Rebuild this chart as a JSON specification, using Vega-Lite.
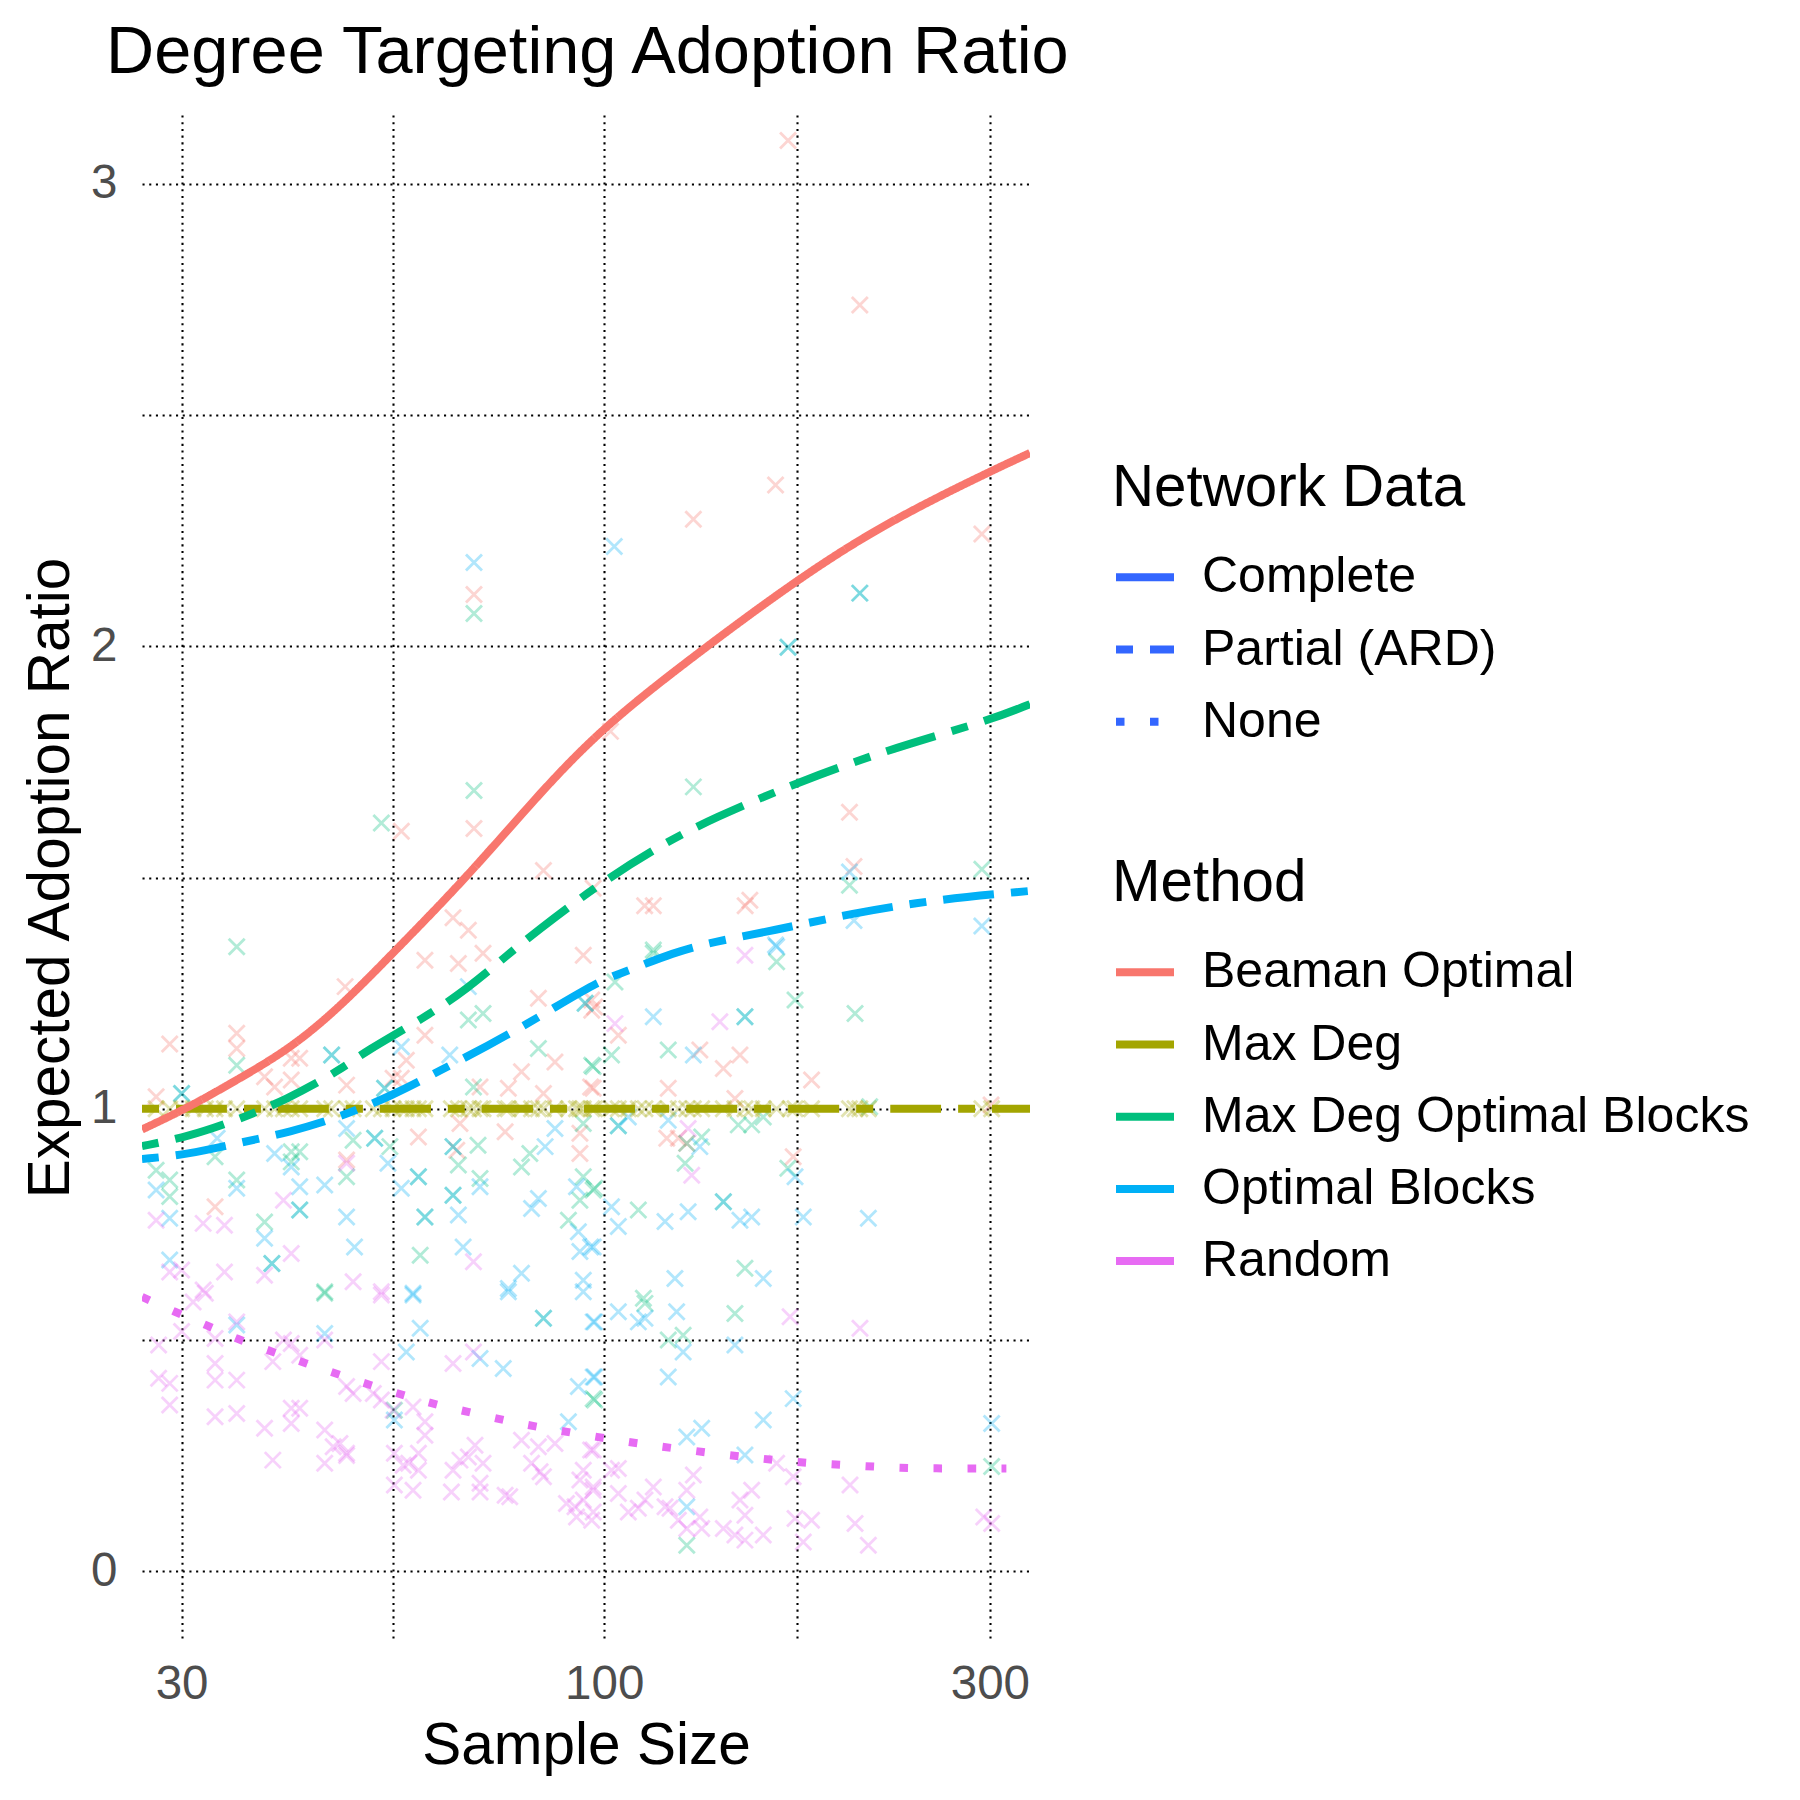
{
  "$schema": "https://vega.github.io/schema/vega-lite/v6.json",
  "width": 888,
  "height": 1525,
  "autosize": {"type": "none"},
  "padding": {"left": 142, "top": 115, "right": 770, "bottom": 160},
  "background": "white",
  "title": {
    "text": "Degree Targeting Adoption Ratio",
    "anchor": "start",
    "frame": "group",
    "dx": -36,
    "dy": 67,
    "offset": 42,
    "baseline": "alphabetic",
    "fontSize": 66.7,
    "font": "Liberation Sans",
    "fontWeight": "normal",
    "color": "black",
    "limit": 0
  },
  "config": {
    "view": {"stroke": null},
    "font": "Liberation Sans",
    "axis": {
      "domain": false,
      "ticks": false,
      "grid": true,
      "gridColor": "#000000",
      "gridOpacity": 1,
      "gridDash": [2.1, 4.6],
      "gridWidth": 2.1,
      "labelFont": "Liberation Sans",
      "labelFontSize": 47.5,
      "labelColor": "#4D4D4D",
      "titleFont": "Liberation Sans",
      "titleFontSize": 58.5,
      "titleFontWeight": "normal",
      "titleColor": "black"
    },
    "legend": {
      "labelFont": "Liberation Sans",
      "labelFontSize": 50,
      "labelColor": "black",
      "labelLimit": 0,
      "titleFont": "Liberation Sans",
      "titleFontSize": 58.3,
      "titleFontWeight": "normal",
      "titleColor": "black",
      "titleLimit": 0
    }
  },
  "datasets": {
    "curves": [
      {"method": "Max Deg", "network": "Partial (ARD)", "n": 26.8, "ratio": 1.0},
      {"method": "Max Deg", "network": "Partial (ARD)", "n": 60, "ratio": 1.0},
      {"method": "Max Deg", "network": "Partial (ARD)", "n": 150, "ratio": 1.0},
      {"method": "Max Deg", "network": "Partial (ARD)", "n": 336.3, "ratio": 1.0},
      {"method": "Beaman Optimal", "network": "Complete", "n": 26.8, "ratio": 0.955},
      {"method": "Beaman Optimal", "network": "Complete", "n": 30.7, "ratio": 1.004},
      {"method": "Beaman Optimal", "network": "Complete", "n": 35.1, "ratio": 1.062},
      {"method": "Beaman Optimal", "network": "Complete", "n": 40.9, "ratio": 1.13},
      {"method": "Beaman Optimal", "network": "Complete", "n": 47.1, "ratio": 1.22},
      {"method": "Beaman Optimal", "network": "Complete", "n": 54.6, "ratio": 1.334},
      {"method": "Beaman Optimal", "network": "Complete", "n": 67.6, "ratio": 1.5},
      {"method": "Beaman Optimal", "network": "Complete", "n": 83.7, "ratio": 1.688},
      {"method": "Beaman Optimal", "network": "Complete", "n": 100.1, "ratio": 1.828},
      {"method": "Beaman Optimal", "network": "Complete", "n": 127.9, "ratio": 1.974},
      {"method": "Beaman Optimal", "network": "Complete", "n": 173, "ratio": 2.144},
      {"method": "Beaman Optimal", "network": "Complete", "n": 222.9, "ratio": 2.267},
      {"method": "Beaman Optimal", "network": "Complete", "n": 300, "ratio": 2.378},
      {"method": "Beaman Optimal", "network": "Complete", "n": 336.3, "ratio": 2.418},
      {"method": "Max Deg Optimal Blocks", "network": "Partial (ARD)", "n": 26.8, "ratio": 0.919},
      {"method": "Max Deg Optimal Blocks", "network": "Partial (ARD)", "n": 30.5, "ratio": 0.939},
      {"method": "Max Deg Optimal Blocks", "network": "Partial (ARD)", "n": 35.1, "ratio": 0.975},
      {"method": "Max Deg Optimal Blocks", "network": "Partial (ARD)", "n": 40.5, "ratio": 1.02},
      {"method": "Max Deg Optimal Blocks", "network": "Partial (ARD)", "n": 47.1, "ratio": 1.083},
      {"method": "Max Deg Optimal Blocks", "network": "Partial (ARD)", "n": 50.7, "ratio": 1.125},
      {"method": "Max Deg Optimal Blocks", "network": "Partial (ARD)", "n": 59.7, "ratio": 1.195},
      {"method": "Max Deg Optimal Blocks", "network": "Partial (ARD)", "n": 67.6, "ratio": 1.258},
      {"method": "Max Deg Optimal Blocks", "network": "Partial (ARD)", "n": 76.3, "ratio": 1.336},
      {"method": "Max Deg Optimal Blocks", "network": "Partial (ARD)", "n": 82, "ratio": 1.38},
      {"method": "Max Deg Optimal Blocks", "network": "Partial (ARD)", "n": 96.9, "ratio": 1.477},
      {"method": "Max Deg Optimal Blocks", "network": "Partial (ARD)", "n": 116, "ratio": 1.565},
      {"method": "Max Deg Optimal Blocks", "network": "Partial (ARD)", "n": 136.5, "ratio": 1.629},
      {"method": "Max Deg Optimal Blocks", "network": "Partial (ARD)", "n": 173, "ratio": 1.705},
      {"method": "Max Deg Optimal Blocks", "network": "Partial (ARD)", "n": 222.9, "ratio": 1.775},
      {"method": "Max Deg Optimal Blocks", "network": "Partial (ARD)", "n": 300, "ratio": 1.84},
      {"method": "Max Deg Optimal Blocks", "network": "Partial (ARD)", "n": 336.3, "ratio": 1.875},
      {"method": "Optimal Blocks", "network": "Partial (ARD)", "n": 26.8, "ratio": 0.891},
      {"method": "Optimal Blocks", "network": "Partial (ARD)", "n": 30.5, "ratio": 0.901},
      {"method": "Optimal Blocks", "network": "Partial (ARD)", "n": 35.1, "ratio": 0.925},
      {"method": "Optimal Blocks", "network": "Partial (ARD)", "n": 41.0, "ratio": 0.95},
      {"method": "Optimal Blocks", "network": "Partial (ARD)", "n": 47.1, "ratio": 0.982},
      {"method": "Optimal Blocks", "network": "Partial (ARD)", "n": 54.8, "ratio": 1.029},
      {"method": "Optimal Blocks", "network": "Partial (ARD)", "n": 62.7, "ratio": 1.083},
      {"method": "Optimal Blocks", "network": "Partial (ARD)", "n": 71.4, "ratio": 1.134},
      {"method": "Optimal Blocks", "network": "Partial (ARD)", "n": 83.3, "ratio": 1.199},
      {"method": "Optimal Blocks", "network": "Partial (ARD)", "n": 98, "ratio": 1.275},
      {"method": "Optimal Blocks", "network": "Partial (ARD)", "n": 107.6, "ratio": 1.3},
      {"method": "Optimal Blocks", "network": "Partial (ARD)", "n": 121.5, "ratio": 1.337},
      {"method": "Optimal Blocks", "network": "Partial (ARD)", "n": 136.3, "ratio": 1.361},
      {"method": "Optimal Blocks", "network": "Partial (ARD)", "n": 160.8, "ratio": 1.384},
      {"method": "Optimal Blocks", "network": "Partial (ARD)", "n": 205.4, "ratio": 1.425},
      {"method": "Optimal Blocks", "network": "Partial (ARD)", "n": 262.4, "ratio": 1.454},
      {"method": "Optimal Blocks", "network": "Partial (ARD)", "n": 336.3, "ratio": 1.471},
      {"method": "Random", "network": "None", "n": 26.8, "ratio": 0.593},
      {"method": "Random", "network": "None", "n": 29.4, "ratio": 0.561},
      {"method": "Random", "network": "None", "n": 32.2, "ratio": 0.532},
      {"method": "Random", "network": "None", "n": 35.1, "ratio": 0.502},
      {"method": "Random", "network": "None", "n": 38.9, "ratio": 0.474},
      {"method": "Random", "network": "None", "n": 42.8, "ratio": 0.449},
      {"method": "Random", "network": "None", "n": 47.1, "ratio": 0.424},
      {"method": "Random", "network": "None", "n": 52.0, "ratio": 0.399},
      {"method": "Random", "network": "None", "n": 57.3, "ratio": 0.377},
      {"method": "Random", "network": "None", "n": 62.9, "ratio": 0.357},
      {"method": "Random", "network": "None", "n": 69.6, "ratio": 0.34},
      {"method": "Random", "network": "None", "n": 76.6, "ratio": 0.323},
      {"method": "Random", "network": "None", "n": 84.5, "ratio": 0.309},
      {"method": "Random", "network": "None", "n": 93.6, "ratio": 0.296},
      {"method": "Random", "network": "None", "n": 103.6, "ratio": 0.283},
      {"method": "Random", "network": "None", "n": 114.5, "ratio": 0.272},
      {"method": "Random", "network": "None", "n": 126.5, "ratio": 0.262},
      {"method": "Random", "network": "None", "n": 140.4, "ratio": 0.252},
      {"method": "Random", "network": "None", "n": 155, "ratio": 0.244},
      {"method": "Random", "network": "None", "n": 171.3, "ratio": 0.236},
      {"method": "Random", "network": "None", "n": 189.6, "ratio": 0.231},
      {"method": "Random", "network": "None", "n": 210.2, "ratio": 0.227},
      {"method": "Random", "network": "None", "n": 232.7, "ratio": 0.223},
      {"method": "Random", "network": "None", "n": 257.6, "ratio": 0.222},
      {"method": "Random", "network": "None", "n": 284.8, "ratio": 0.222},
      {"method": "Random", "network": "None", "n": 314.4, "ratio": 0.222}
    ],
    "points": [
      {"method": "Beaman Optimal", "n": 29.0, "ratio": 1.14},
      {"method": "Beaman Optimal", "n": 35.1, "ratio": 1.163},
      {"method": "Beaman Optimal", "n": 35.1, "ratio": 1.13},
      {"method": "Beaman Optimal", "n": 27.9, "ratio": 1.026},
      {"method": "Beaman Optimal", "n": 38.0, "ratio": 1.069},
      {"method": "Beaman Optimal", "n": 39.1, "ratio": 1.047},
      {"method": "Beaman Optimal", "n": 41.0, "ratio": 1.109},
      {"method": "Beaman Optimal", "n": 42.0, "ratio": 1.109},
      {"method": "Beaman Optimal", "n": 41.0, "ratio": 1.062},
      {"method": "Beaman Optimal", "n": 47.8, "ratio": 1.264},
      {"method": "Beaman Optimal", "n": 48.0, "ratio": 1.051},
      {"method": "Beaman Optimal", "n": 48.0, "ratio": 0.889},
      {"method": "Beaman Optimal", "n": 33.0, "ratio": 0.788},
      {"method": "Beaman Optimal", "n": 60.0, "ratio": 1.321},
      {"method": "Beaman Optimal", "n": 66.0, "ratio": 1.314},
      {"method": "Beaman Optimal", "n": 70.8, "ratio": 1.336},
      {"method": "Beaman Optimal", "n": 60.0, "ratio": 1.159},
      {"method": "Beaman Optimal", "n": 56.9, "ratio": 1.105},
      {"method": "Beaman Optimal", "n": 56.1, "ratio": 1.066},
      {"method": "Beaman Optimal", "n": 94.2, "ratio": 1.332},
      {"method": "Beaman Optimal", "n": 82.9, "ratio": 1.239},
      {"method": "Beaman Optimal", "n": 96.5, "ratio": 1.235},
      {"method": "Beaman Optimal", "n": 96.5, "ratio": 1.213},
      {"method": "Beaman Optimal", "n": 86.9, "ratio": 1.101},
      {"method": "Beaman Optimal", "n": 79.0, "ratio": 1.08},
      {"method": "Beaman Optimal", "n": 76.1, "ratio": 1.044},
      {"method": "Beaman Optimal", "n": 70.2, "ratio": 1.047},
      {"method": "Beaman Optimal", "n": 96.2, "ratio": 1.047},
      {"method": "Beaman Optimal", "n": 66.3, "ratio": 0.968},
      {"method": "Beaman Optimal", "n": 58.9, "ratio": 0.939},
      {"method": "Beaman Optimal", "n": 75.4, "ratio": 0.95},
      {"method": "Beaman Optimal", "n": 65.7, "ratio": 0.91},
      {"method": "Beaman Optimal", "n": 93.3, "ratio": 0.947},
      {"method": "Beaman Optimal", "n": 93.3, "ratio": 0.903},
      {"method": "Beaman Optimal", "n": 54.8, "ratio": 1.066},
      {"method": "Beaman Optimal", "n": 84.1, "ratio": 1.033},
      {"method": "Beaman Optimal", "n": 104.1, "ratio": 1.159},
      {"method": "Beaman Optimal", "n": 97.3, "ratio": 1.22},
      {"method": "Beaman Optimal", "n": 131.3, "ratio": 1.127},
      {"method": "Beaman Optimal", "n": 147.2, "ratio": 1.116},
      {"method": "Beaman Optimal", "n": 140.4, "ratio": 1.087},
      {"method": "Beaman Optimal", "n": 180.5, "ratio": 1.062},
      {"method": "Beaman Optimal", "n": 120.0, "ratio": 1.044},
      {"method": "Beaman Optimal", "n": 145.1, "ratio": 1.022},
      {"method": "Beaman Optimal", "n": 119.5, "ratio": 0.936},
      {"method": "Beaman Optimal", "n": 123.5, "ratio": 0.936},
      {"method": "Beaman Optimal", "n": 126.5, "ratio": 0.925},
      {"method": "Beaman Optimal", "n": 171.3, "ratio": 0.896},
      {"method": "Beaman Optimal", "n": 96.9, "ratio": 1.044},
      {"method": "Beaman Optimal", "n": 301.0, "ratio": 1.008},
      {"method": "Beaman Optimal", "n": 168.8, "ratio": 3.094},
      {"method": "Beaman Optimal", "n": 207.1, "ratio": 2.738},
      {"method": "Beaman Optimal", "n": 162.9, "ratio": 2.349},
      {"method": "Beaman Optimal", "n": 128.9, "ratio": 2.275},
      {"method": "Beaman Optimal", "n": 293.2, "ratio": 2.243},
      {"method": "Beaman Optimal", "n": 69.0, "ratio": 2.112},
      {"method": "Beaman Optimal", "n": 101.8, "ratio": 1.816},
      {"method": "Beaman Optimal", "n": 56.1, "ratio": 1.6},
      {"method": "Beaman Optimal", "n": 69.0, "ratio": 1.606},
      {"method": "Beaman Optimal", "n": 201.1, "ratio": 1.641},
      {"method": "Beaman Optimal", "n": 203.7, "ratio": 1.524},
      {"method": "Beaman Optimal", "n": 84.1, "ratio": 1.515},
      {"method": "Beaman Optimal", "n": 96.9, "ratio": 1.477},
      {"method": "Beaman Optimal", "n": 112.2, "ratio": 1.439},
      {"method": "Beaman Optimal", "n": 115.0, "ratio": 1.439},
      {"method": "Beaman Optimal", "n": 149.4, "ratio": 1.439},
      {"method": "Beaman Optimal", "n": 151.4, "ratio": 1.451},
      {"method": "Beaman Optimal", "n": 65.0, "ratio": 1.413},
      {"method": "Beaman Optimal", "n": 67.9, "ratio": 1.386},
      {"method": "Max Deg Optimal Blocks", "n": 35.1, "ratio": 1.094},
      {"method": "Max Deg Optimal Blocks", "n": 27.9, "ratio": 0.867},
      {"method": "Max Deg Optimal Blocks", "n": 29.0, "ratio": 0.846},
      {"method": "Max Deg Optimal Blocks", "n": 29.0, "ratio": 0.81},
      {"method": "Max Deg Optimal Blocks", "n": 33.0, "ratio": 0.896},
      {"method": "Max Deg Optimal Blocks", "n": 35.1, "ratio": 0.846},
      {"method": "Max Deg Optimal Blocks", "n": 38.0, "ratio": 0.755},
      {"method": "Max Deg Optimal Blocks", "n": 41.0, "ratio": 0.907},
      {"method": "Max Deg Optimal Blocks", "n": 42.0, "ratio": 0.907},
      {"method": "Max Deg Optimal Blocks", "n": 41.0, "ratio": 0.885},
      {"method": "Max Deg Optimal Blocks", "n": 48.0, "ratio": 0.853},
      {"method": "Max Deg Optimal Blocks", "n": 48.9, "ratio": 0.932},
      {"method": "Max Deg Optimal Blocks", "n": 45.1, "ratio": 0.604},
      {"method": "Max Deg Optimal Blocks", "n": 67.9, "ratio": 1.192},
      {"method": "Max Deg Optimal Blocks", "n": 70.8, "ratio": 1.206},
      {"method": "Max Deg Optimal Blocks", "n": 68.9, "ratio": 1.047},
      {"method": "Max Deg Optimal Blocks", "n": 69.8, "ratio": 0.921},
      {"method": "Max Deg Optimal Blocks", "n": 70.2, "ratio": 0.849},
      {"method": "Max Deg Optimal Blocks", "n": 66.0, "ratio": 0.878},
      {"method": "Max Deg Optimal Blocks", "n": 82.9, "ratio": 1.13},
      {"method": "Max Deg Optimal Blocks", "n": 96.5, "ratio": 1.094},
      {"method": "Max Deg Optimal Blocks", "n": 94.2, "ratio": 0.968},
      {"method": "Max Deg Optimal Blocks", "n": 94.2, "ratio": 0.853},
      {"method": "Max Deg Optimal Blocks", "n": 93.3, "ratio": 0.802},
      {"method": "Max Deg Optimal Blocks", "n": 96.9, "ratio": 0.824},
      {"method": "Max Deg Optimal Blocks", "n": 90.3, "ratio": 0.759},
      {"method": "Max Deg Optimal Blocks", "n": 79.0, "ratio": 0.874},
      {"method": "Max Deg Optimal Blocks", "n": 80.9, "ratio": 0.903},
      {"method": "Max Deg Optimal Blocks", "n": 59.2, "ratio": 0.683},
      {"method": "Max Deg Optimal Blocks", "n": 53.5, "ratio": 1.044},
      {"method": "Max Deg Optimal Blocks", "n": 46.0, "ratio": 1.116},
      {"method": "Max Deg Optimal Blocks", "n": 30.0, "ratio": 1.033},
      {"method": "Max Deg Optimal Blocks", "n": 54.3, "ratio": 0.918},
      {"method": "Max Deg Optimal Blocks", "n": 35.1, "ratio": 1.35},
      {"method": "Max Deg Optimal Blocks", "n": 115.0, "ratio": 1.336},
      {"method": "Max Deg Optimal Blocks", "n": 163.4, "ratio": 1.318},
      {"method": "Max Deg Optimal Blocks", "n": 103.1, "ratio": 1.274},
      {"method": "Max Deg Optimal Blocks", "n": 204.3, "ratio": 1.206},
      {"method": "Max Deg Optimal Blocks", "n": 102.1, "ratio": 1.116},
      {"method": "Max Deg Optimal Blocks", "n": 96.9, "ratio": 1.091},
      {"method": "Max Deg Optimal Blocks", "n": 120.0, "ratio": 1.127},
      {"method": "Max Deg Optimal Blocks", "n": 172.2, "ratio": 1.235},
      {"method": "Max Deg Optimal Blocks", "n": 146.5, "ratio": 0.965},
      {"method": "Max Deg Optimal Blocks", "n": 152.2, "ratio": 0.965},
      {"method": "Max Deg Optimal Blocks", "n": 157.3, "ratio": 0.982},
      {"method": "Max Deg Optimal Blocks", "n": 132.0, "ratio": 0.939},
      {"method": "Max Deg Optimal Blocks", "n": 126.5, "ratio": 0.925},
      {"method": "Max Deg Optimal Blocks", "n": 125.9, "ratio": 0.882},
      {"method": "Max Deg Optimal Blocks", "n": 168.7, "ratio": 0.871},
      {"method": "Max Deg Optimal Blocks", "n": 97.3, "ratio": 0.828},
      {"method": "Max Deg Optimal Blocks", "n": 110.2, "ratio": 0.781},
      {"method": "Max Deg Optimal Blocks", "n": 149.3, "ratio": 0.655},
      {"method": "Max Deg Optimal Blocks", "n": 111.8, "ratio": 0.59},
      {"method": "Max Deg Optimal Blocks", "n": 213.0, "ratio": 1.004},
      {"method": "Max Deg Optimal Blocks", "n": 45.1, "ratio": 0.601},
      {"method": "Max Deg Optimal Blocks", "n": 55.0, "ratio": 0.348},
      {"method": "Max Deg Optimal Blocks", "n": 96.9, "ratio": 0.373},
      {"method": "Max Deg Optimal Blocks", "n": 112.3, "ratio": 0.579},
      {"method": "Max Deg Optimal Blocks", "n": 145.1, "ratio": 0.557},
      {"method": "Max Deg Optimal Blocks", "n": 120.0, "ratio": 0.5},
      {"method": "Max Deg Optimal Blocks", "n": 125.2, "ratio": 0.51},
      {"method": "Max Deg Optimal Blocks", "n": 97.3, "ratio": 0.37},
      {"method": "Max Deg Optimal Blocks", "n": 126.5, "ratio": 0.056},
      {"method": "Max Deg Optimal Blocks", "n": 301.5, "ratio": 0.226},
      {"method": "Max Deg Optimal Blocks", "n": 69.0, "ratio": 2.071},
      {"method": "Max Deg Optimal Blocks", "n": 69.0, "ratio": 1.688},
      {"method": "Max Deg Optimal Blocks", "n": 128.9, "ratio": 1.696},
      {"method": "Max Deg Optimal Blocks", "n": 201.1, "ratio": 1.483},
      {"method": "Max Deg Optimal Blocks", "n": 293.2, "ratio": 1.518},
      {"method": "Max Deg Optimal Blocks", "n": 53.0, "ratio": 1.618},
      {"method": "Max Deg Optimal Blocks", "n": 115.0, "ratio": 1.343},
      {"method": "Max Deg Optimal Blocks", "n": 94.7, "ratio": 1.228},
      {"method": "Max Deg Optimal Blocks", "n": 149.3, "ratio": 1.199},
      {"method": "Max Deg Optimal Blocks", "n": 104.1, "ratio": 0.963},
      {"method": "Max Deg Optimal Blocks", "n": 140.4, "ratio": 0.799},
      {"method": "Max Deg Optimal Blocks", "n": 84.1, "ratio": 0.547},
      {"method": "Max Deg Optimal Blocks", "n": 38.8, "ratio": 0.665},
      {"method": "Max Deg Optimal Blocks", "n": 52.0, "ratio": 0.936},
      {"method": "Max Deg Optimal Blocks", "n": 58.9, "ratio": 0.853},
      {"method": "Max Deg Optimal Blocks", "n": 60.0, "ratio": 0.766},
      {"method": "Max Deg Optimal Blocks", "n": 65.0, "ratio": 0.918},
      {"method": "Max Deg Optimal Blocks", "n": 65.0, "ratio": 0.813},
      {"method": "Max Deg Optimal Blocks", "n": 42.0, "ratio": 0.781},
      {"method": "Max Deg Optimal Blocks", "n": 207.1, "ratio": 2.115},
      {"method": "Max Deg Optimal Blocks", "n": 168.8, "ratio": 1.998},
      {"method": "Optimal Blocks", "n": 27.9, "ratio": 0.824},
      {"method": "Optimal Blocks", "n": 29.0, "ratio": 0.763},
      {"method": "Optimal Blocks", "n": 29.0, "ratio": 0.673},
      {"method": "Optimal Blocks", "n": 33.2, "ratio": 0.936},
      {"method": "Optimal Blocks", "n": 35.1, "ratio": 0.828},
      {"method": "Optimal Blocks", "n": 38.0, "ratio": 0.72},
      {"method": "Optimal Blocks", "n": 39.1, "ratio": 0.903},
      {"method": "Optimal Blocks", "n": 41.0, "ratio": 0.874},
      {"method": "Optimal Blocks", "n": 42.0, "ratio": 0.831},
      {"method": "Optimal Blocks", "n": 42.0, "ratio": 0.781},
      {"method": "Optimal Blocks", "n": 45.1, "ratio": 0.835},
      {"method": "Optimal Blocks", "n": 48.0, "ratio": 0.957},
      {"method": "Optimal Blocks", "n": 48.0, "ratio": 0.766},
      {"method": "Optimal Blocks", "n": 49.1, "ratio": 0.701},
      {"method": "Optimal Blocks", "n": 52.0, "ratio": 0.936},
      {"method": "Optimal Blocks", "n": 54.0, "ratio": 0.882},
      {"method": "Optimal Blocks", "n": 56.1, "ratio": 1.134},
      {"method": "Optimal Blocks", "n": 56.1, "ratio": 0.828},
      {"method": "Optimal Blocks", "n": 58.9, "ratio": 0.853},
      {"method": "Optimal Blocks", "n": 60.0, "ratio": 0.766},
      {"method": "Optimal Blocks", "n": 64.4, "ratio": 1.116},
      {"method": "Optimal Blocks", "n": 65.0, "ratio": 0.918},
      {"method": "Optimal Blocks", "n": 65.0, "ratio": 0.813},
      {"method": "Optimal Blocks", "n": 66.0, "ratio": 0.77},
      {"method": "Optimal Blocks", "n": 66.9, "ratio": 0.701},
      {"method": "Optimal Blocks", "n": 70.2, "ratio": 0.831},
      {"method": "Optimal Blocks", "n": 82.9, "ratio": 0.806},
      {"method": "Optimal Blocks", "n": 81.3, "ratio": 0.784},
      {"method": "Optimal Blocks", "n": 84.5, "ratio": 0.918},
      {"method": "Optimal Blocks", "n": 86.9, "ratio": 0.957},
      {"method": "Optimal Blocks", "n": 92.4, "ratio": 0.831},
      {"method": "Optimal Blocks", "n": 92.9, "ratio": 0.734},
      {"method": "Optimal Blocks", "n": 93.3, "ratio": 0.691},
      {"method": "Optimal Blocks", "n": 96.2, "ratio": 0.701},
      {"method": "Optimal Blocks", "n": 94.2, "ratio": 0.629},
      {"method": "Optimal Blocks", "n": 94.7, "ratio": 1.228},
      {"method": "Optimal Blocks", "n": 79.0, "ratio": 0.644},
      {"method": "Optimal Blocks", "n": 76.1, "ratio": 0.611},
      {"method": "Optimal Blocks", "n": 58.0, "ratio": 0.601},
      {"method": "Optimal Blocks", "n": 38.8, "ratio": 0.665},
      {"method": "Optimal Blocks", "n": 67.9, "ratio": 1.264},
      {"method": "Optimal Blocks", "n": 53.5, "ratio": 1.044},
      {"method": "Optimal Blocks", "n": 46.0, "ratio": 1.116},
      {"method": "Optimal Blocks", "n": 30.0, "ratio": 1.033},
      {"method": "Optimal Blocks", "n": 163.4, "ratio": 1.35},
      {"method": "Optimal Blocks", "n": 115.0, "ratio": 1.199},
      {"method": "Optimal Blocks", "n": 128.9, "ratio": 1.116},
      {"method": "Optimal Blocks", "n": 120.0, "ratio": 0.975},
      {"method": "Optimal Blocks", "n": 131.3, "ratio": 0.918},
      {"method": "Optimal Blocks", "n": 172.2, "ratio": 0.853},
      {"method": "Optimal Blocks", "n": 102.1, "ratio": 0.788},
      {"method": "Optimal Blocks", "n": 104.1, "ratio": 0.745},
      {"method": "Optimal Blocks", "n": 118.9, "ratio": 0.756},
      {"method": "Optimal Blocks", "n": 127.0, "ratio": 0.777},
      {"method": "Optimal Blocks", "n": 147.2, "ratio": 0.759},
      {"method": "Optimal Blocks", "n": 152.2, "ratio": 0.766},
      {"method": "Optimal Blocks", "n": 176.3, "ratio": 0.766},
      {"method": "Optimal Blocks", "n": 212.2, "ratio": 0.763},
      {"method": "Optimal Blocks", "n": 96.9, "ratio": 0.701},
      {"method": "Optimal Blocks", "n": 122.3, "ratio": 0.633},
      {"method": "Optimal Blocks", "n": 157.3, "ratio": 0.633},
      {"method": "Optimal Blocks", "n": 149.3, "ratio": 1.199},
      {"method": "Optimal Blocks", "n": 104.1, "ratio": 0.963},
      {"method": "Optimal Blocks", "n": 107.1, "ratio": 0.982},
      {"method": "Optimal Blocks", "n": 140.4, "ratio": 0.799},
      {"method": "Optimal Blocks", "n": 58.0, "ratio": 0.597},
      {"method": "Optimal Blocks", "n": 76.1, "ratio": 0.604},
      {"method": "Optimal Blocks", "n": 94.2, "ratio": 0.604},
      {"method": "Optimal Blocks", "n": 35.1, "ratio": 0.532},
      {"method": "Optimal Blocks", "n": 45.1, "ratio": 0.514},
      {"method": "Optimal Blocks", "n": 59.2, "ratio": 0.525},
      {"method": "Optimal Blocks", "n": 56.9, "ratio": 0.474},
      {"method": "Optimal Blocks", "n": 70.2, "ratio": 0.46},
      {"method": "Optimal Blocks", "n": 75.0, "ratio": 0.438},
      {"method": "Optimal Blocks", "n": 92.9, "ratio": 0.399},
      {"method": "Optimal Blocks", "n": 96.9, "ratio": 0.42},
      {"method": "Optimal Blocks", "n": 96.9, "ratio": 0.539},
      {"method": "Optimal Blocks", "n": 90.3, "ratio": 0.323},
      {"method": "Optimal Blocks", "n": 55.0, "ratio": 0.327},
      {"method": "Optimal Blocks", "n": 84.1, "ratio": 0.547},
      {"method": "Optimal Blocks", "n": 97.3, "ratio": 0.539},
      {"method": "Optimal Blocks", "n": 104.1, "ratio": 0.561},
      {"method": "Optimal Blocks", "n": 110.2, "ratio": 0.539},
      {"method": "Optimal Blocks", "n": 112.3, "ratio": 0.547},
      {"method": "Optimal Blocks", "n": 122.9, "ratio": 0.561},
      {"method": "Optimal Blocks", "n": 125.2, "ratio": 0.474},
      {"method": "Optimal Blocks", "n": 120.0, "ratio": 0.42},
      {"method": "Optimal Blocks", "n": 145.1, "ratio": 0.489},
      {"method": "Optimal Blocks", "n": 97.3, "ratio": 0.42},
      {"method": "Optimal Blocks", "n": 171.3, "ratio": 0.373},
      {"method": "Optimal Blocks", "n": 157.3, "ratio": 0.327},
      {"method": "Optimal Blocks", "n": 132.0, "ratio": 0.309},
      {"method": "Optimal Blocks", "n": 126.5, "ratio": 0.29},
      {"method": "Optimal Blocks", "n": 149.3, "ratio": 0.251},
      {"method": "Optimal Blocks", "n": 126.5, "ratio": 0.139},
      {"method": "Optimal Blocks", "n": 301.5, "ratio": 0.319},
      {"method": "Optimal Blocks", "n": 69.0, "ratio": 2.181},
      {"method": "Optimal Blocks", "n": 102.9, "ratio": 2.216},
      {"method": "Optimal Blocks", "n": 207.1, "ratio": 2.115},
      {"method": "Optimal Blocks", "n": 168.8, "ratio": 1.998},
      {"method": "Optimal Blocks", "n": 201.1, "ratio": 1.512},
      {"method": "Optimal Blocks", "n": 203.7, "ratio": 1.407},
      {"method": "Optimal Blocks", "n": 293.2, "ratio": 1.395},
      {"method": "Optimal Blocks", "n": 162.9, "ratio": 1.354},
      {"method": "Random", "n": 27.9, "ratio": 0.759},
      {"method": "Random", "n": 31.9, "ratio": 0.752},
      {"method": "Random", "n": 33.9, "ratio": 0.748},
      {"method": "Random", "n": 40.1, "ratio": 0.802},
      {"method": "Random", "n": 41.0, "ratio": 0.687},
      {"method": "Random", "n": 48.0, "ratio": 0.882},
      {"method": "Random", "n": 29.0, "ratio": 0.647},
      {"method": "Random", "n": 30.0, "ratio": 0.651},
      {"method": "Random", "n": 33.9, "ratio": 0.647},
      {"method": "Random", "n": 38.0, "ratio": 0.64},
      {"method": "Random", "n": 31.9, "ratio": 0.608},
      {"method": "Random", "n": 48.9, "ratio": 0.626},
      {"method": "Random", "n": 53.0, "ratio": 0.604},
      {"method": "Random", "n": 68.9, "ratio": 0.669},
      {"method": "Random", "n": 149.3, "ratio": 1.332},
      {"method": "Random", "n": 103.1, "ratio": 1.184},
      {"method": "Random", "n": 139.0, "ratio": 1.188},
      {"method": "Random", "n": 127.0, "ratio": 0.957},
      {"method": "Random", "n": 128.3, "ratio": 0.856},
      {"method": "Random", "n": 31.0, "ratio": 0.582},
      {"method": "Random", "n": 32.1, "ratio": 0.601},
      {"method": "Random", "n": 28.1, "ratio": 0.489},
      {"method": "Random", "n": 30.0, "ratio": 0.518},
      {"method": "Random", "n": 33.0, "ratio": 0.503},
      {"method": "Random", "n": 35.1, "ratio": 0.539},
      {"method": "Random", "n": 28.1, "ratio": 0.417},
      {"method": "Random", "n": 29.0, "ratio": 0.406},
      {"method": "Random", "n": 29.0, "ratio": 0.359},
      {"method": "Random", "n": 33.0, "ratio": 0.449},
      {"method": "Random", "n": 33.0, "ratio": 0.413},
      {"method": "Random", "n": 35.1, "ratio": 0.413},
      {"method": "Random", "n": 33.0, "ratio": 0.334},
      {"method": "Random", "n": 35.1, "ratio": 0.341},
      {"method": "Random", "n": 38.9, "ratio": 0.453},
      {"method": "Random", "n": 40.1, "ratio": 0.5},
      {"method": "Random", "n": 41.0, "ratio": 0.492},
      {"method": "Random", "n": 42.0, "ratio": 0.467},
      {"method": "Random", "n": 38.0, "ratio": 0.309},
      {"method": "Random", "n": 41.0, "ratio": 0.352},
      {"method": "Random", "n": 41.0, "ratio": 0.319},
      {"method": "Random", "n": 42.0, "ratio": 0.352},
      {"method": "Random", "n": 38.9, "ratio": 0.24},
      {"method": "Random", "n": 45.1, "ratio": 0.5},
      {"method": "Random", "n": 45.1, "ratio": 0.305},
      {"method": "Random", "n": 45.1, "ratio": 0.233},
      {"method": "Random", "n": 46.2, "ratio": 0.269},
      {"method": "Random", "n": 47.1, "ratio": 0.276},
      {"method": "Random", "n": 48.0, "ratio": 0.255},
      {"method": "Random", "n": 48.0, "ratio": 0.25},
      {"method": "Random", "n": 48.0, "ratio": 0.399},
      {"method": "Random", "n": 48.9, "ratio": 0.384},
      {"method": "Random", "n": 53.0, "ratio": 0.453},
      {"method": "Random", "n": 51.8, "ratio": 0.384},
      {"method": "Random", "n": 53.0, "ratio": 0.37},
      {"method": "Random", "n": 53.0, "ratio": 0.597},
      {"method": "Random", "n": 54.8, "ratio": 0.348},
      {"method": "Random", "n": 55.0, "ratio": 0.255},
      {"method": "Random", "n": 55.0, "ratio": 0.186},
      {"method": "Random", "n": 56.4, "ratio": 0.229},
      {"method": "Random", "n": 57.3, "ratio": 0.233},
      {"method": "Random", "n": 58.9, "ratio": 0.255},
      {"method": "Random", "n": 58.9, "ratio": 0.218},
      {"method": "Random", "n": 58.0, "ratio": 0.175},
      {"method": "Random", "n": 58.0, "ratio": 0.355},
      {"method": "Random", "n": 60.0, "ratio": 0.323},
      {"method": "Random", "n": 60.0, "ratio": 0.294},
      {"method": "Random", "n": 65.0, "ratio": 0.449},
      {"method": "Random", "n": 68.9, "ratio": 0.474},
      {"method": "Random", "n": 64.7, "ratio": 0.171},
      {"method": "Random", "n": 65.0, "ratio": 0.218},
      {"method": "Random", "n": 66.3, "ratio": 0.24},
      {"method": "Random", "n": 67.9, "ratio": 0.247},
      {"method": "Random", "n": 69.2, "ratio": 0.272},
      {"method": "Random", "n": 70.8, "ratio": 0.233},
      {"method": "Random", "n": 70.2, "ratio": 0.19},
      {"method": "Random", "n": 70.2, "ratio": 0.171},
      {"method": "Random", "n": 75.4, "ratio": 0.164},
      {"method": "Random", "n": 76.4, "ratio": 0.161},
      {"method": "Random", "n": 79.0, "ratio": 0.283},
      {"method": "Random", "n": 81.3, "ratio": 0.233},
      {"method": "Random", "n": 82.9, "ratio": 0.269},
      {"method": "Random", "n": 83.3, "ratio": 0.215},
      {"method": "Random", "n": 84.1, "ratio": 0.204},
      {"method": "Random", "n": 86.9, "ratio": 0.276},
      {"method": "Random", "n": 89.8, "ratio": 0.146},
      {"method": "Random", "n": 92.0, "ratio": 0.139},
      {"method": "Random", "n": 92.4, "ratio": 0.117},
      {"method": "Random", "n": 94.2, "ratio": 0.218},
      {"method": "Random", "n": 93.3, "ratio": 0.197},
      {"method": "Random", "n": 94.2, "ratio": 0.154},
      {"method": "Random", "n": 96.5, "ratio": 0.11},
      {"method": "Random", "n": 96.9, "ratio": 0.175},
      {"method": "Random", "n": 96.2, "ratio": 0.262},
      {"method": "Random", "n": 169.8, "ratio": 0.55},
      {"method": "Random", "n": 207.2, "ratio": 0.525},
      {"method": "Random", "n": 96.9, "ratio": 0.262},
      {"method": "Random", "n": 102.1, "ratio": 0.218},
      {"method": "Random", "n": 104.1, "ratio": 0.222},
      {"method": "Random", "n": 96.9, "ratio": 0.182},
      {"method": "Random", "n": 104.1, "ratio": 0.168},
      {"method": "Random", "n": 96.9, "ratio": 0.128},
      {"method": "Random", "n": 107.1, "ratio": 0.128},
      {"method": "Random", "n": 110.2, "ratio": 0.136},
      {"method": "Random", "n": 112.3, "ratio": 0.154},
      {"method": "Random", "n": 115.0, "ratio": 0.182},
      {"method": "Random", "n": 118.9, "ratio": 0.139},
      {"method": "Random", "n": 120.6, "ratio": 0.136},
      {"method": "Random", "n": 123.5, "ratio": 0.11},
      {"method": "Random", "n": 126.5, "ratio": 0.092},
      {"method": "Random", "n": 126.5, "ratio": 0.175},
      {"method": "Random", "n": 128.9, "ratio": 0.208},
      {"method": "Random", "n": 131.3, "ratio": 0.117},
      {"method": "Random", "n": 132.0, "ratio": 0.092},
      {"method": "Random", "n": 140.4, "ratio": 0.092},
      {"method": "Random", "n": 145.1, "ratio": 0.078},
      {"method": "Random", "n": 147.2, "ratio": 0.154},
      {"method": "Random", "n": 149.3, "ratio": 0.121},
      {"method": "Random", "n": 149.3, "ratio": 0.067},
      {"method": "Random", "n": 152.2, "ratio": 0.175},
      {"method": "Random", "n": 157.3, "ratio": 0.078},
      {"method": "Random", "n": 163.4, "ratio": 0.233},
      {"method": "Random", "n": 171.3, "ratio": 0.204},
      {"method": "Random", "n": 172.2, "ratio": 0.114},
      {"method": "Random", "n": 176.3, "ratio": 0.063},
      {"method": "Random", "n": 180.5, "ratio": 0.11},
      {"method": "Random", "n": 201.4, "ratio": 0.186},
      {"method": "Random", "n": 204.3, "ratio": 0.103},
      {"method": "Random", "n": 212.2, "ratio": 0.056},
      {"method": "Random", "n": 294.8, "ratio": 0.117},
      {"method": "Random", "n": 301.5, "ratio": 0.103},
      {"method": "Max Deg", "n": 27.9, "ratio": 1},
      {"method": "Max Deg", "n": 29.0, "ratio": 1},
      {"method": "Max Deg", "n": 30.0, "ratio": 1},
      {"method": "Max Deg", "n": 31.0, "ratio": 1},
      {"method": "Max Deg", "n": 32.1, "ratio": 1},
      {"method": "Max Deg", "n": 33.0, "ratio": 1},
      {"method": "Max Deg", "n": 33.9, "ratio": 1},
      {"method": "Max Deg", "n": 35.1, "ratio": 1},
      {"method": "Max Deg", "n": 38.0, "ratio": 1},
      {"method": "Max Deg", "n": 39.1, "ratio": 1},
      {"method": "Max Deg", "n": 40.1, "ratio": 1},
      {"method": "Max Deg", "n": 41.0, "ratio": 1},
      {"method": "Max Deg", "n": 42.0, "ratio": 1},
      {"method": "Max Deg", "n": 45.1, "ratio": 1},
      {"method": "Max Deg", "n": 46.0, "ratio": 1},
      {"method": "Max Deg", "n": 48.0, "ratio": 1},
      {"method": "Max Deg", "n": 48.9, "ratio": 1},
      {"method": "Max Deg", "n": 51.8, "ratio": 1},
      {"method": "Max Deg", "n": 53.0, "ratio": 1},
      {"method": "Max Deg", "n": 54.8, "ratio": 1},
      {"method": "Max Deg", "n": 56.1, "ratio": 1},
      {"method": "Max Deg", "n": 56.9, "ratio": 1},
      {"method": "Max Deg", "n": 58.0, "ratio": 1},
      {"method": "Max Deg", "n": 58.9, "ratio": 1},
      {"method": "Max Deg", "n": 60.0, "ratio": 1},
      {"method": "Max Deg", "n": 64.7, "ratio": 1},
      {"method": "Max Deg", "n": 66.0, "ratio": 1},
      {"method": "Max Deg", "n": 67.9, "ratio": 1},
      {"method": "Max Deg", "n": 68.9, "ratio": 1},
      {"method": "Max Deg", "n": 70.2, "ratio": 1},
      {"method": "Max Deg", "n": 70.8, "ratio": 1},
      {"method": "Max Deg", "n": 75.4, "ratio": 1},
      {"method": "Max Deg", "n": 76.1, "ratio": 1},
      {"method": "Max Deg", "n": 79.0, "ratio": 1},
      {"method": "Max Deg", "n": 81.3, "ratio": 1},
      {"method": "Max Deg", "n": 82.9, "ratio": 1},
      {"method": "Max Deg", "n": 84.1, "ratio": 1},
      {"method": "Max Deg", "n": 86.9, "ratio": 1},
      {"method": "Max Deg", "n": 90.3, "ratio": 1},
      {"method": "Max Deg", "n": 92.4, "ratio": 1},
      {"method": "Max Deg", "n": 93.3, "ratio": 1},
      {"method": "Max Deg", "n": 94.2, "ratio": 1},
      {"method": "Max Deg", "n": 96.5, "ratio": 1},
      {"method": "Max Deg", "n": 97.3, "ratio": 1},
      {"method": "Max Deg", "n": 102.1, "ratio": 1},
      {"method": "Max Deg", "n": 104.1, "ratio": 1},
      {"method": "Max Deg", "n": 107.1, "ratio": 1},
      {"method": "Max Deg", "n": 110.2, "ratio": 1},
      {"method": "Max Deg", "n": 112.3, "ratio": 1},
      {"method": "Max Deg", "n": 115.0, "ratio": 1},
      {"method": "Max Deg", "n": 120.0, "ratio": 1},
      {"method": "Max Deg", "n": 123.5, "ratio": 1},
      {"method": "Max Deg", "n": 126.5, "ratio": 1},
      {"method": "Max Deg", "n": 128.9, "ratio": 1},
      {"method": "Max Deg", "n": 132.0, "ratio": 1},
      {"method": "Max Deg", "n": 140.4, "ratio": 1},
      {"method": "Max Deg", "n": 145.1, "ratio": 1},
      {"method": "Max Deg", "n": 149.3, "ratio": 1},
      {"method": "Max Deg", "n": 152.2, "ratio": 1},
      {"method": "Max Deg", "n": 157.3, "ratio": 1},
      {"method": "Max Deg", "n": 163.4, "ratio": 1},
      {"method": "Max Deg", "n": 169.8, "ratio": 1},
      {"method": "Max Deg", "n": 172.2, "ratio": 1},
      {"method": "Max Deg", "n": 180.5, "ratio": 1},
      {"method": "Max Deg", "n": 201.1, "ratio": 1},
      {"method": "Max Deg", "n": 204.3, "ratio": 1},
      {"method": "Max Deg", "n": 207.1, "ratio": 1},
      {"method": "Max Deg", "n": 212.2, "ratio": 1},
      {"method": "Max Deg", "n": 293.2, "ratio": 1},
      {"method": "Max Deg", "n": 301.5, "ratio": 1}
    ]
  },
  "encoding": {
    "x": {
      "field": "n",
      "type": "quantitative",
      "scale": {"type": "log", "domain": [26.8, 336.3], "nice": false},
      "axis": {
        "title": "Sample Size",
        "values": [30, 54.772, 100, 173.205, 300],
        "labelExpr": "datum.value == 30 || datum.value == 100 || datum.value == 300 ? format(datum.value, 'd') : ''",
        "labelPadding": 20,
        "titleY": 123,
        "titleBaseline": "alphabetic"
      }
    },
    "y": {
      "field": "ratio",
      "type": "quantitative",
      "scale": {"domain": [-0.149, 3.149], "nice": false, "zero": false},
      "axis": {
        "title": "Expected Adoption Ratio",
        "values": [0, 0.5, 1, 1.5, 2, 2.5, 3],
        "labelExpr": "datum.value % 1 == 0 ? format(datum.value, 'd') : ''",
        "labelPadding": 25,
        "titleX": -74,
        "titleBaseline": "alphabetic"
      }
    },
    "color": {
      "field": "method",
      "type": "nominal",
      "scale": {
        "domain": ["Beaman Optimal", "Max Deg", "Max Deg Optimal Blocks", "Optimal Blocks", "Random"],
        "range": ["#F8766D", "#A3A500", "#00BF7D", "#00B0F6", "#E76BF3"]
      },
      "legend": {
        "title": "Method",
        "orient": "none",
        "legendX": 970,
        "legendY": 740,
        "symbolType": "stroke",
        "symbolSize": 3364,
        "symbolStrokeWidth": 8,
        "symbolOpacity": 1,
        "titlePadding": 26,
        "rowPadding": 14.2,
        "labelOffset": 24,
        "padding": 0
      }
    }
  },
  "layer": [
    {
      "data": {"name": "points"},
      "mark": {
        "type": "point",
        "shape": "M-1,-1L1,1M-1,1L1,-1",
        "filled": false,
        "size": 256,
        "strokeWidth": 2.8,
        "opacity": 0.3,
        "clip": true
      }
    },
    {
      "data": {"name": "curves"},
      "mark": {"type": "line", "strokeWidth": 8, "interpolate": "basis", "strokeCap": "butt", "clip": true},
      "encoding": {
        "strokeDash": {
          "field": "network",
          "type": "nominal",
          "scale": {
            "domain": ["Complete", "Partial (ARD)", "None"],
            "range": [[1, 0], [17, 17, 51, 17], [8.5, 25.5]]
          },
          "legend": {
            "title": "Network Data",
            "orient": "none",
            "legendX": 970,
            "legendY": 345,
            "symbolType": "stroke",
            "symbolSize": 3364,
            "symbolStrokeWidth": 8,
            "symbolStrokeColor": "#3366FF",
            "symbolOpacity": 1,
            "titlePadding": 26,
            "rowPadding": 14.2,
            "labelOffset": 24,
            "padding": 0
          }
        }
      }
    }
  ]
}
